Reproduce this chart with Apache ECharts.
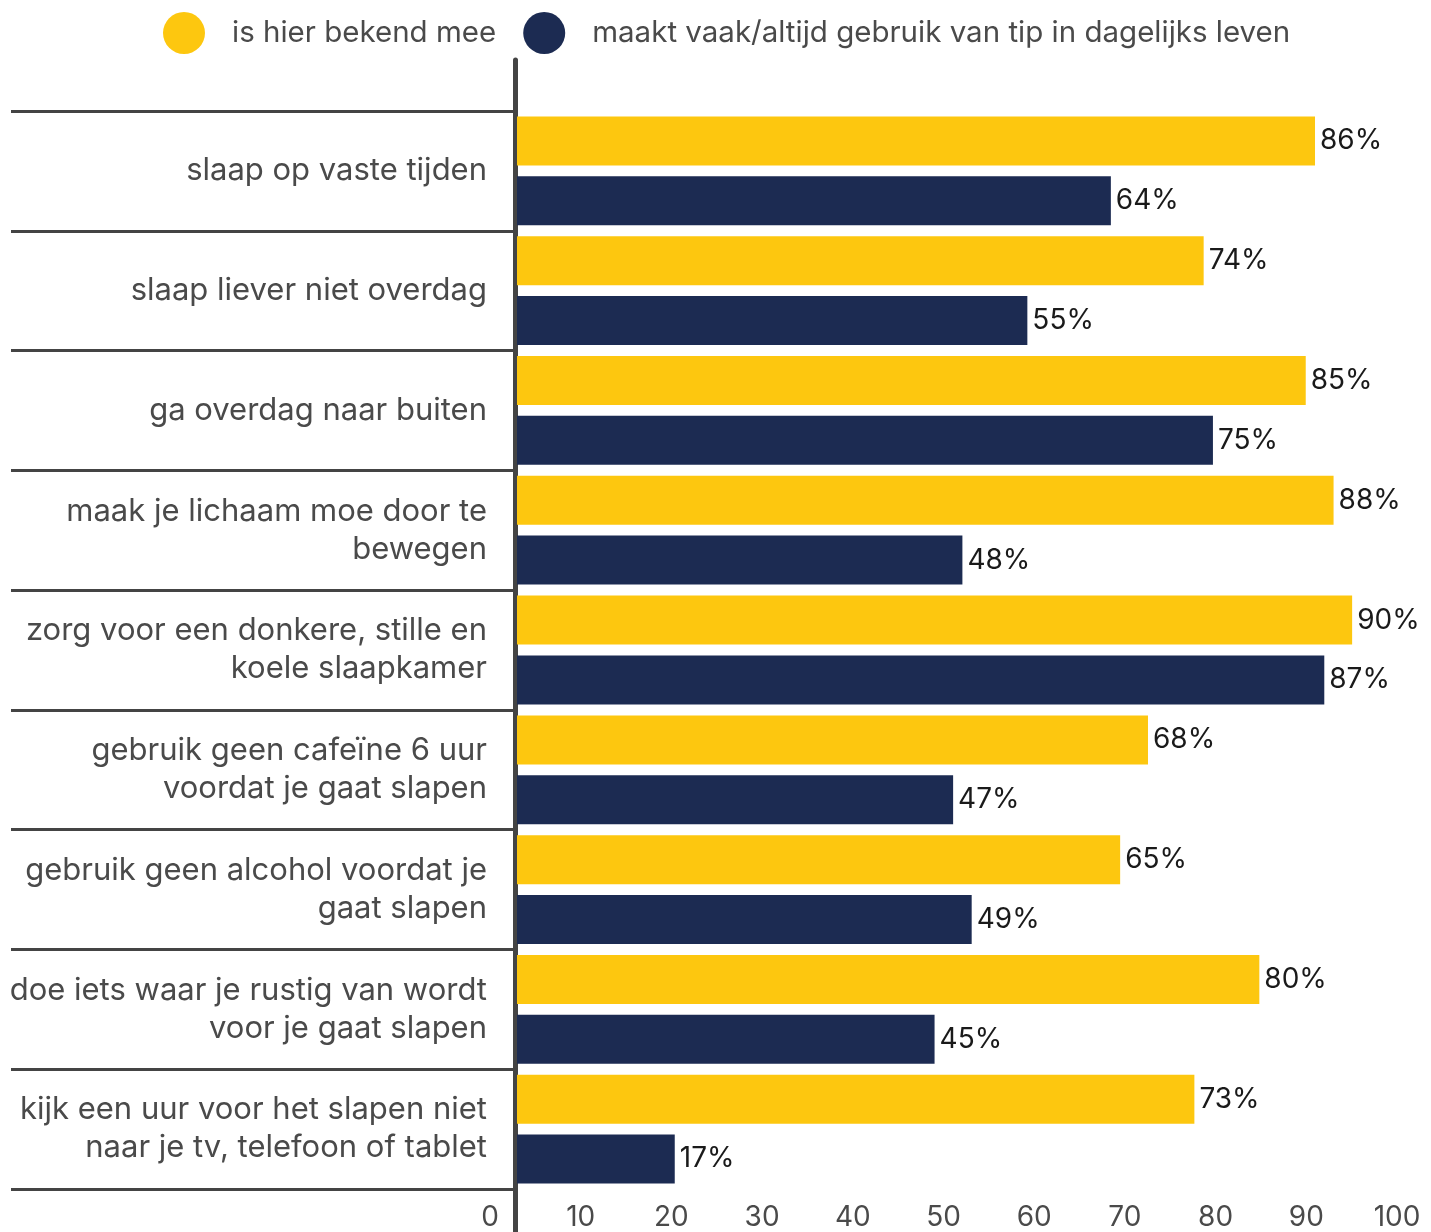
<!DOCTYPE html>
<html>
<head>
<meta charset="utf-8">
<script src="https://cdn.jsdelivr.net/npm/echarts@6/dist/echarts.min.js"></script>
<style>
  html, body { margin: 0; padding: 0; background: #fff; }
  #chart { width: 1431px; height: 1232px; }
</style>
</head>
<body>
<div id="chart"></div>
<script>
"use strict";

// categories (top to bottom)
var categories = [
	'slaap op vaste tijden',
	'slaap liever niet overdag',
	'ga overdag naar buiten',
	'maak je lichaam moe door te\nbewegen',
	'zorg voor een donkere, stille en\nkoele slaapkamer',
	'gebruik geen cafeïne 6 uur\nvoordat je gaat slapen',
	'gebruik geen alcohol voordat je\ngaat slapen',
	'doe iets waar je rustig van wordt\nvoor je gaat slapen',
	'kijk een uur voor het slapen niet\nnaar je tv, telefoon of tablet'
];
var seriesNames = ['is hier bekend mee', 'maakt vaak/altijd gebruik van tip in dagelijks leven'];
var bekend = [86, 74, 85, 88, 90, 68, 65, 80, 73];
var gebruik = [64, 55, 75, 48, 87, 47, 49, 45, 17];
var tickLabels = [0, 10, 20, 30, 40, 50, 60, 70, 80, 90, 100];

var FONT = 'Inter, "Noto Sans", sans-serif';
var GREY = '#4a4a4a';

var chart = echarts.init(document.getElementById('chart'));

var option = {
	animation: false,
	color: ['#fdc70f', '#1c2b52'],
	legend: {
		left: 163,
		top: 12,
		padding: 0,
		itemWidth: 42,
		itemHeight: 42,
		itemGap: 27,
		icon: 'circle',
		textStyle: { fontFamily: FONT, fontSize: 29.5, color: GREY, padding: [0, 0, 0, 22] },
		data: seriesNames
	},
	grid: [
		// bars
		{ left: 517, right: 0, top: 111, bottom: 43 },
		// bottom tick labels
		{ left: 490, right: 34, top: 1100, bottom: 33 },
		// long vertical axis line
		{ left: 515, width: 1, top: 60, bottom: 0 }
	],
	xAxis: [
		{ gridIndex: 0, type: 'value', min: 0, max: 98.5, show: false },
		{
			gridIndex: 1, type: 'value', min: 0, max: 100, interval: 10,
			axisLine: { show: false }, axisTick: { show: false }, splitLine: { show: false },
			axisLabel: {
				margin: 8, fontFamily: FONT, fontSize: 28, color: GREY,
				formatter: function (v) { return tickLabels.indexOf(v) >= 0 ? String(v) : ''; }
			}
		},
		{ gridIndex: 2, type: 'value', show: false }
	],
	yAxis: [
		{
			gridIndex: 0, type: 'category', inverse: true, data: categories,
			axisLine: { show: false },
			axisTick: { show: true, length: 506, lineStyle: { color: '#444', width: 3 } },
			axisLabel: {
				margin: 30, fontFamily: FONT, fontSize: 31, color: GREY,
				lineHeight: 38, align: 'right'
			}
		},
		{ gridIndex: 1, type: 'value', show: false },
		{
			gridIndex: 2, type: 'value', min: 0, max: 1,
			axisLine: { show: true, lineStyle: { color: '#444', width: 5 } },
			axisTick: { show: false }, axisLabel: { show: false }, splitLine: { show: false }
		}
	],
	series: [
		{
			name: seriesNames[0], type: 'bar', xAxisIndex: 0, yAxisIndex: 0,
			data: bekend, barWidth: 49, barGap: '22%',
			label: {
				show: true, position: 'right', distance: 5,
				fontFamily: FONT, fontSize: 28, color: '#1a1a1a',
				formatter: '{c}%'
			}
		},
		{
			name: seriesNames[1], type: 'bar', xAxisIndex: 0, yAxisIndex: 0,
			data: gebruik, barWidth: 49, barGap: '22%',
			label: {
				show: true, position: 'right', distance: 5,
				fontFamily: FONT, fontSize: 28, color: '#1a1a1a',
				formatter: '{c}%'
			}
		}
	]
};

chart.setOption(option);
</script>
</body>
</html>
